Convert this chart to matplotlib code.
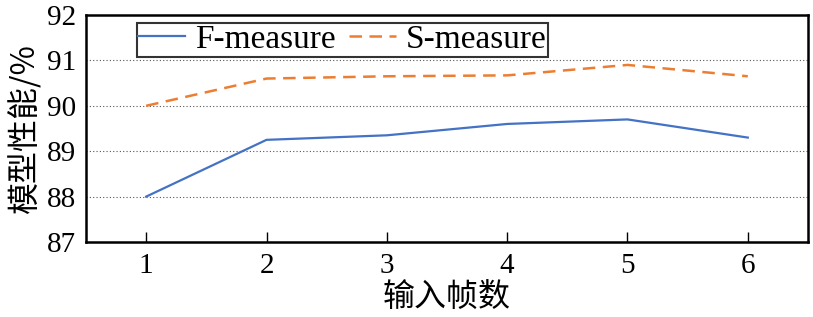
import matplotlib
matplotlib.use("Agg")
import matplotlib.pyplot as plt

frames = [1, 2, 3, 4, 5, 6]
f_measure = [88.0, 89.25, 89.35, 89.6, 89.7, 89.3]
s_measure = [90.0, 90.6, 90.65, 90.67, 90.9, 90.65]

plt.rcParams['font.family'] = ['Liberation Serif', 'Noto Sans CJK SC']

fig = plt.figure(figsize=(8.13, 3.17), dpi=100)
ax = fig.add_axes([0.1058, 0.2366, 0.8880, 0.7161])

ax.plot(frames, f_measure, color="#4472c4", linewidth=1.6, label="F-measure")
ax.plot(frames, s_measure, color="#ed7d31", linewidth=1.8, linestyle=(0, (5, 3)), label="S-measure")

ax.set_xlim(0.5, 6.5)
ax.set_ylim(87, 92)
ax.set_xticks(frames)
ax.set_yticks([87, 88, 89, 90, 91, 92])
ax.yaxis.grid(True, linestyle=(0, (1, 2)), color="#555555", linewidth=0.8)
ax.tick_params(axis='x', direction='in', length=7, width=1, labelsize=21, pad=8)
ax.tick_params(axis='y', length=0, labelsize=21, pad=7)
for s in ax.spines.values():
    s.set_linewidth(1.8)

ax.set_xlabel("输入帧数", fontsize=23, family=['Noto Sans CJK SC'], labelpad=2)
ax.set_ylabel("模型性能/%", fontsize=23, family=['Noto Sans CJK SC'], labelpad=4)

leg = ax.legend(loc="upper left", bbox_to_anchor=(0.07, 0.965), ncol=2, fontsize=24,
                frameon=True, fancybox=False, edgecolor="black", handlelength=1.4,
                handletextpad=0.3, columnspacing=0.4, borderpad=0.05, borderaxespad=0)
leg.get_frame().set_linewidth(1.5)

fig.savefig("out.png", dpi=100)
